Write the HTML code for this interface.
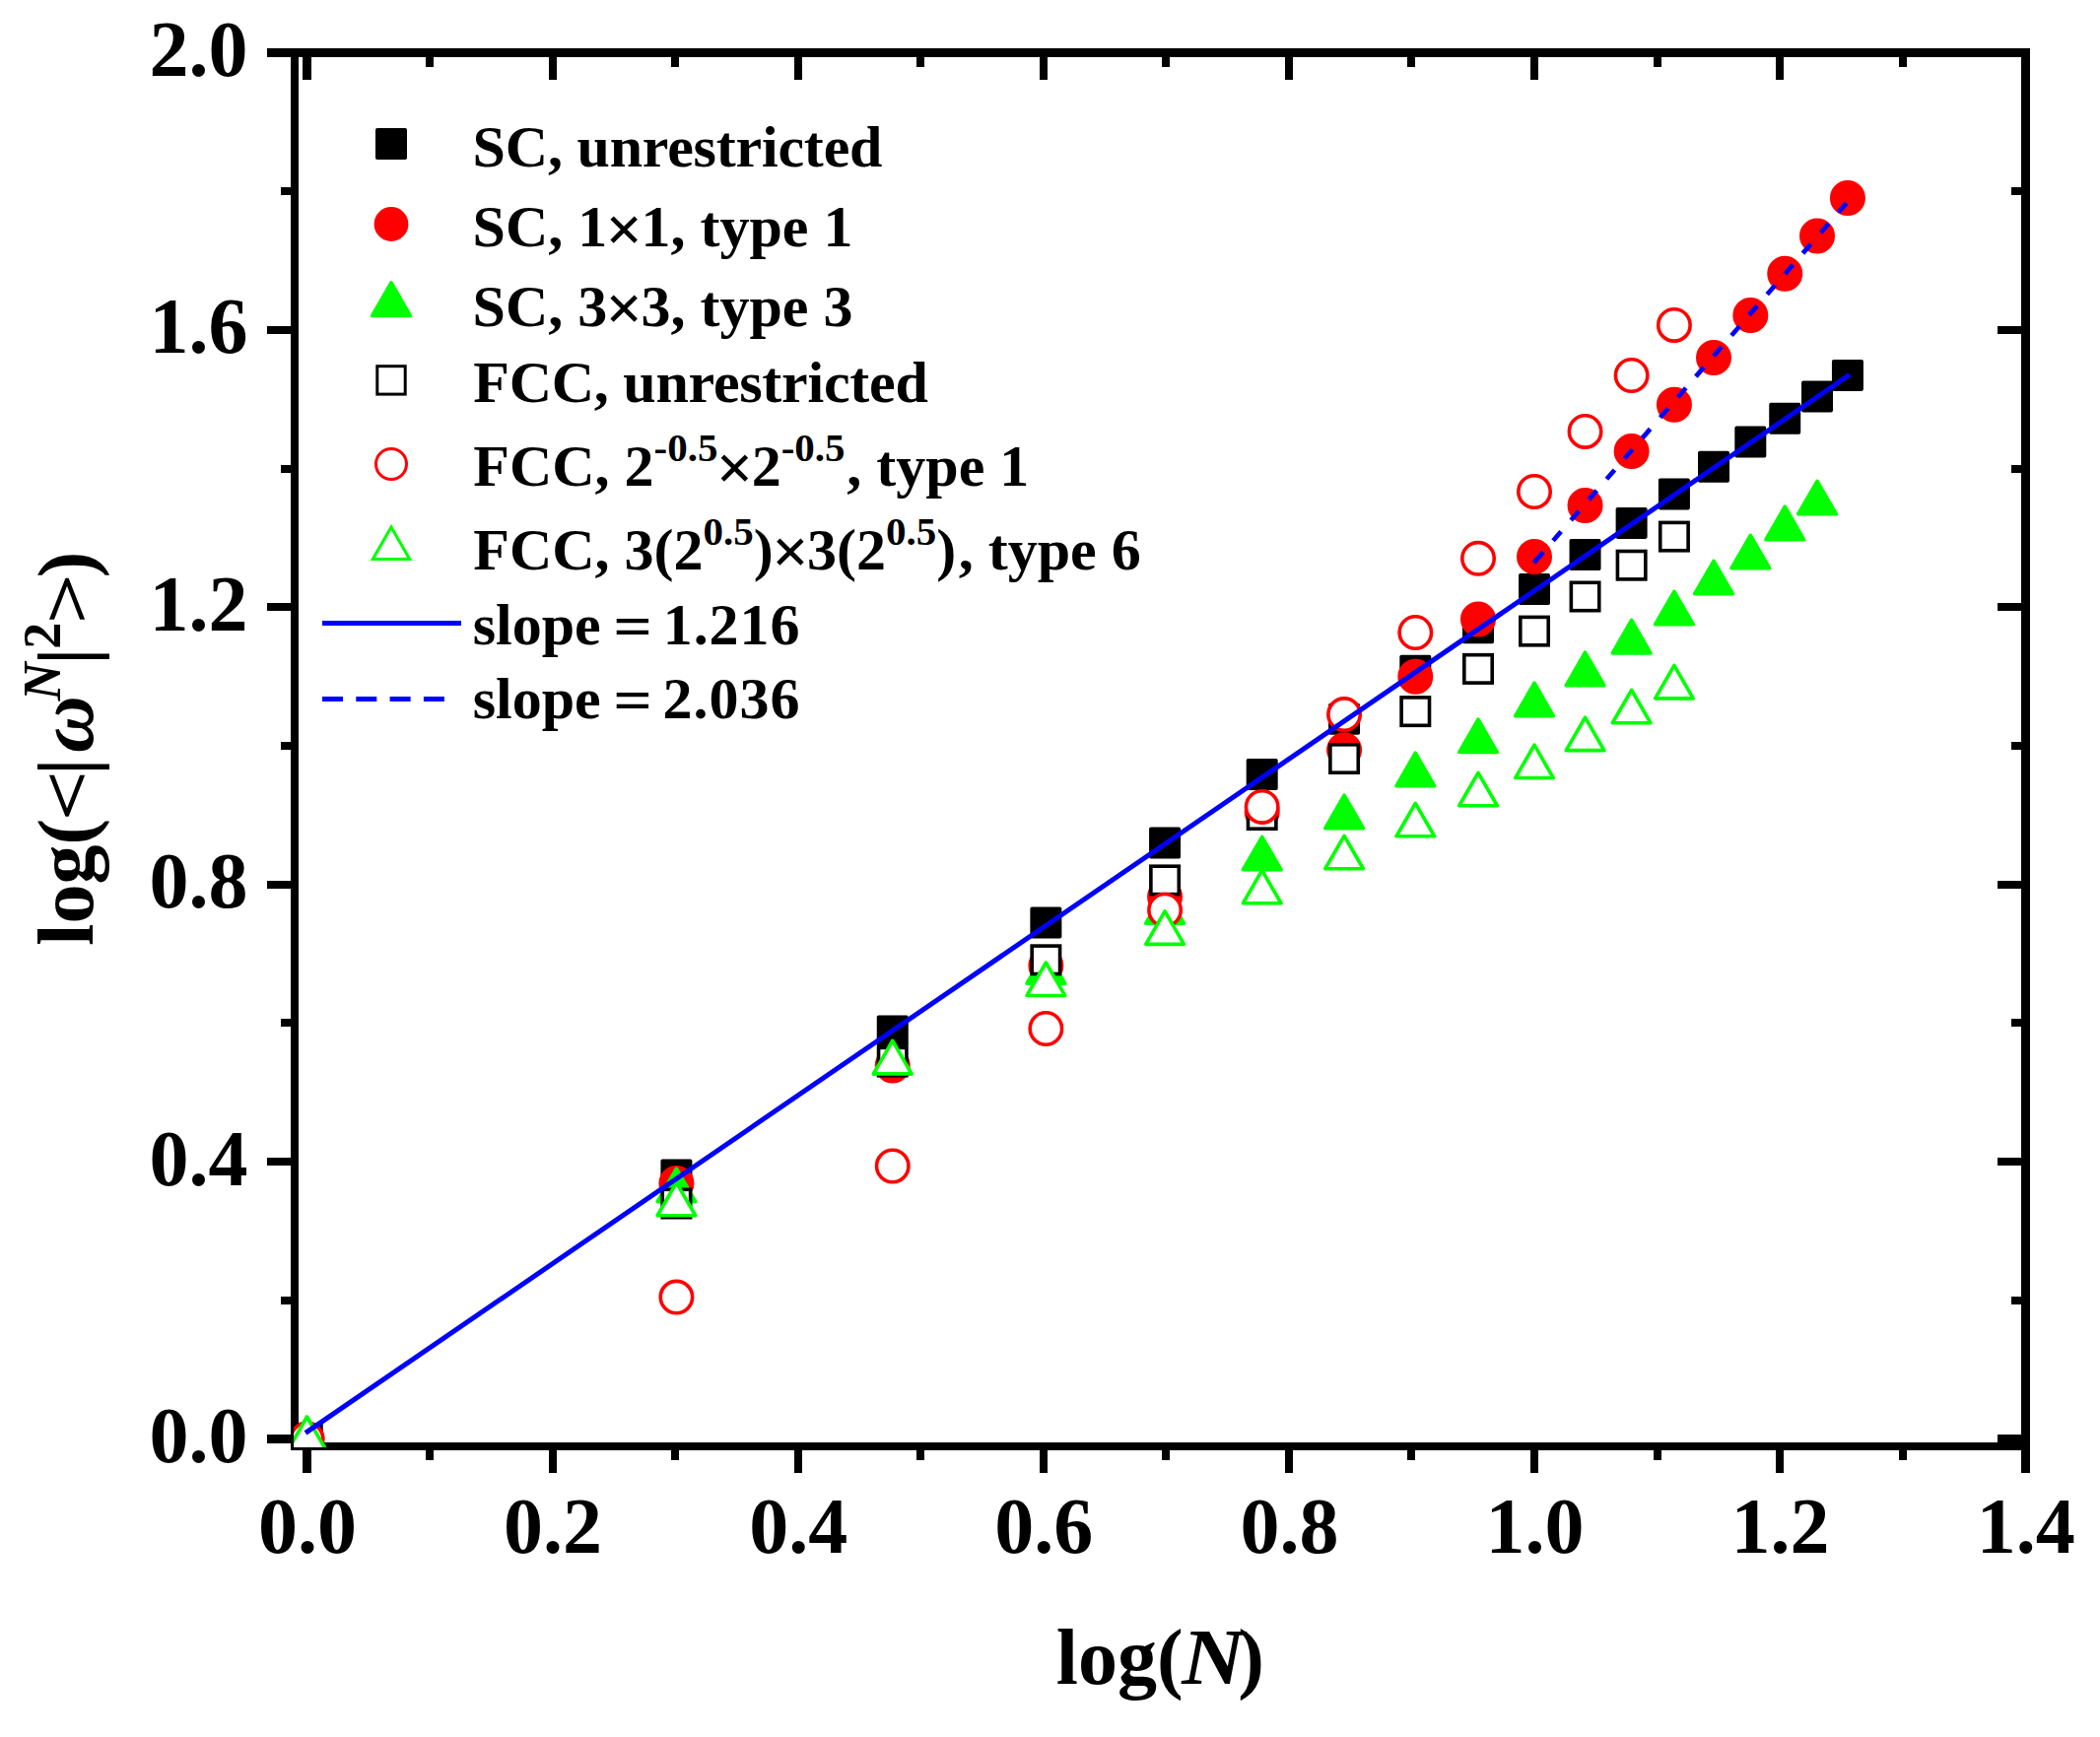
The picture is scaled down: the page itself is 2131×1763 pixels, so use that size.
<!DOCTYPE html>
<html lang="en"><head><meta charset="utf-8"><title>log(&lt;|&#969;N|2&gt;) versus log(N)</title>
<style>html,body{margin:0;padding:0;background:#fff}svg{display:block}text{font-family:"Liberation Serif","DejaVu Serif",serif;font-weight:bold;fill:#000}</style></head><body>
<svg width="2131" height="1763" viewBox="0 0 2131 1763">
<rect x="0" y="0" width="2131" height="1763" fill="#fff"/>
<g fill="#000" shape-rendering="crispEdges">
<rect x="295" y="49" width="8" height="1423"/>
<rect x="2051" y="49" width="9" height="1423"/>
<rect x="295" y="49" width="1765" height="9"/>
<rect x="295" y="1464" width="1765" height="8"/>
<rect x="307" y="1472" width="9" height="23"/>
<rect x="307" y="58" width="9" height="23"/>
<rect x="432" y="1472" width="8" height="10"/>
<rect x="432" y="58" width="8" height="10"/>
<rect x="557" y="1472" width="8" height="23"/>
<rect x="557" y="58" width="8" height="23"/>
<rect x="681" y="1472" width="8" height="10"/>
<rect x="681" y="58" width="8" height="10"/>
<rect x="806" y="1472" width="8" height="23"/>
<rect x="806" y="58" width="8" height="23"/>
<rect x="930" y="1472" width="8" height="10"/>
<rect x="930" y="58" width="8" height="10"/>
<rect x="1055" y="1472" width="8" height="23"/>
<rect x="1055" y="58" width="8" height="23"/>
<rect x="1179" y="1472" width="8" height="10"/>
<rect x="1179" y="58" width="8" height="10"/>
<rect x="1304" y="1472" width="8" height="23"/>
<rect x="1304" y="58" width="8" height="23"/>
<rect x="1428" y="1472" width="8" height="10"/>
<rect x="1428" y="58" width="8" height="10"/>
<rect x="1553" y="1472" width="8" height="23"/>
<rect x="1553" y="58" width="8" height="23"/>
<rect x="1678" y="1472" width="8" height="10"/>
<rect x="1678" y="58" width="8" height="10"/>
<rect x="1802" y="1472" width="8" height="23"/>
<rect x="1802" y="58" width="8" height="23"/>
<rect x="1927" y="1472" width="8" height="10"/>
<rect x="1927" y="58" width="8" height="10"/>
<rect x="2051" y="1472" width="9" height="23"/>
<rect x="2051" y="58" width="9" height="23"/>
<rect x="271" y="1456" width="24" height="9"/>
<rect x="2027" y="1456" width="24" height="9"/>
<rect x="285" y="1316" width="10" height="8"/>
<rect x="2041" y="1316" width="10" height="8"/>
<rect x="271" y="1175" width="24" height="8"/>
<rect x="2027" y="1175" width="24" height="8"/>
<rect x="285" y="1034" width="10" height="8"/>
<rect x="2041" y="1034" width="10" height="8"/>
<rect x="271" y="894" width="24" height="8"/>
<rect x="2027" y="894" width="24" height="8"/>
<rect x="285" y="753" width="10" height="8"/>
<rect x="2041" y="753" width="10" height="8"/>
<rect x="271" y="612" width="24" height="8"/>
<rect x="2027" y="612" width="24" height="8"/>
<rect x="285" y="472" width="10" height="8"/>
<rect x="2041" y="472" width="10" height="8"/>
<rect x="271" y="331" width="24" height="8"/>
<rect x="2027" y="331" width="24" height="8"/>
<rect x="285" y="190" width="10" height="8"/>
<rect x="2041" y="190" width="10" height="8"/>
<rect x="271" y="49" width="24" height="9"/>
<rect x="2027" y="49" width="24" height="9"/>
</g>
<g font-size="80px">
<text x="312" y="1576" text-anchor="middle">0.0</text>
<text x="561.1" y="1576" text-anchor="middle">0.2</text>
<text x="810.2" y="1576" text-anchor="middle">0.4</text>
<text x="1059.3" y="1576" text-anchor="middle">0.6</text>
<text x="1308.4" y="1576" text-anchor="middle">0.8</text>
<text x="1557.5" y="1576" text-anchor="middle">1.0</text>
<text x="1806.6" y="1576" text-anchor="middle">1.2</text>
<text x="2055.7" y="1576" text-anchor="middle">1.4</text>
<text x="251.4" y="1484" text-anchor="end">0.0</text>
<text x="251.4" y="1202.6" text-anchor="end">0.4</text>
<text x="251.4" y="921.2" text-anchor="end">0.8</text>
<text x="251.4" y="639.8" text-anchor="end">1.2</text>
<text x="251.4" y="358.4" text-anchor="end">1.6</text>
<text x="251.4" y="77" text-anchor="end">2.0</text>
</g>
<g font-size="80px"><text x="1071.8" y="1709">log(</text><text transform="translate(1199.2 1709) scale(1.1 1)" font-style="italic">N</text><text x="1256.2" y="1709">)</text></g>
<g transform="translate(93.6 958.2) rotate(-90)" font-size="80px">
<text x="-1.5" y="0">log(</text>
<text transform="translate(124.9 -1.5) scale(1.13 0.91)">&lt;</text>
<text x="171.2" y="0">|</text>
<text x="194.2" y="0" font-style="italic">&#969;</text>
<text x="247" y="-32.6" font-size="54px" font-style="italic">N</text>
<text x="283.3" y="0">|</text>
<text x="299.4" y="-32.6" font-size="54px">2</text>
<text transform="translate(324.9 -1.5) scale(1.13 0.91)">&gt;</text>
<text x="371.9" y="0">)</text>
</g>
<defs><clipPath id="pa"><rect x="298" y="53" width="1758" height="1416"/></clipPath></defs>
<g clip-path="url(#pa)" stroke-width="3.6" stroke-linejoin="round">
<g><rect x="297.3" y="1446.3" width="28.4" height="28.4" fill="#000" stroke="#000" stroke-linejoin="round"/><rect x="672.23" y="1178.3" width="28.4" height="28.4" fill="#000" stroke="#000" stroke-linejoin="round"/><rect x="891.55" y="1032.3" width="28.4" height="28.4" fill="#000" stroke="#000" stroke-linejoin="round"/><rect x="1047.17" y="922.3" width="28.4" height="28.4" fill="#000" stroke="#000" stroke-linejoin="round"/><rect x="1167.87" y="841.4" width="28.4" height="28.4" fill="#000" stroke="#000" stroke-linejoin="round"/><rect x="1266.49" y="771.8" width="28.4" height="28.4" fill="#000" stroke="#000" stroke-linejoin="round"/><rect x="1349.87" y="715.5" width="28.4" height="28.4" fill="#000" stroke="#000" stroke-linejoin="round"/><rect x="1422.1" y="666.5" width="28.4" height="28.4" fill="#000" stroke="#000" stroke-linejoin="round"/><rect x="1485.81" y="623" width="28.4" height="28.4" fill="#000" stroke="#000" stroke-linejoin="round"/><rect x="1542.8" y="583.9" width="28.4" height="28.4" fill="#000" stroke="#000" stroke-linejoin="round"/><rect x="1594.35" y="548.8" width="28.4" height="28.4" fill="#000" stroke="#000" stroke-linejoin="round"/><rect x="1641.42" y="516.7" width="28.4" height="28.4" fill="#000" stroke="#000" stroke-linejoin="round"/><rect x="1684.72" y="487.2" width="28.4" height="28.4" fill="#000" stroke="#000" stroke-linejoin="round"/><rect x="1724.8" y="459.6" width="28.4" height="28.4" fill="#000" stroke="#000" stroke-linejoin="round"/><rect x="1762.12" y="434.4" width="28.4" height="28.4" fill="#000" stroke="#000" stroke-linejoin="round"/><rect x="1797.03" y="410.5" width="28.4" height="28.4" fill="#000" stroke="#000" stroke-linejoin="round"/><rect x="1829.82" y="388.2" width="28.4" height="28.4" fill="#000" stroke="#000" stroke-linejoin="round"/><rect x="1860.74" y="366.7" width="28.4" height="28.4" fill="#000" stroke="#000" stroke-linejoin="round"/></g>
<g><circle cx="311.5" cy="1460.5" r="16.2" fill="#f00" stroke="#f00"/><circle cx="686.43" cy="1201" r="16.2" fill="#f00" stroke="#f00"/><circle cx="905.75" cy="1081.5" r="16.2" fill="#f00" stroke="#f00"/><circle cx="1061.37" cy="980" r="16.2" fill="#f00" stroke="#f00"/><circle cx="1182.07" cy="910" r="16.2" fill="#f00" stroke="#f00"/><circle cx="1280.69" cy="824" r="16.2" fill="#f00" stroke="#f00"/><circle cx="1364.07" cy="761.2" r="16.2" fill="#f00" stroke="#f00"/><circle cx="1436.3" cy="686.8" r="16.2" fill="#f00" stroke="#f00"/><circle cx="1500.01" cy="628.4" r="16.2" fill="#f00" stroke="#f00"/><circle cx="1557" cy="565" r="16.2" fill="#f00" stroke="#f00"/><circle cx="1608.55" cy="513.1" r="16.2" fill="#f00" stroke="#f00"/><circle cx="1655.62" cy="457.9" r="16.2" fill="#f00" stroke="#f00"/><circle cx="1698.92" cy="410.8" r="16.2" fill="#f00" stroke="#f00"/><circle cx="1739" cy="362.9" r="16.2" fill="#f00" stroke="#f00"/><circle cx="1776.32" cy="320" r="16.2" fill="#f00" stroke="#f00"/><circle cx="1811.23" cy="277.8" r="16.2" fill="#f00" stroke="#f00"/><circle cx="1844.02" cy="239.5" r="16.2" fill="#f00" stroke="#f00"/><circle cx="1874.94" cy="200.9" r="16.2" fill="#f00" stroke="#f00"/></g>
<g><polygon points="311.5,1438.21 330.8,1471.64 292.2,1471.64" fill="#0f0" stroke="#0f0"/><polygon points="686.43,1186.21 705.73,1219.64 667.13,1219.64" fill="#0f0" stroke="#0f0"/><polygon points="905.75,1056.71 925.05,1090.14 886.45,1090.14" fill="#0f0" stroke="#0f0"/><polygon points="1061.37,964.71 1080.67,998.14 1042.07,998.14" fill="#0f0" stroke="#0f0"/><polygon points="1182.07,903.71 1201.37,937.14 1162.77,937.14" fill="#0f0" stroke="#0f0"/><polygon points="1280.69,849.31 1299.99,882.74 1261.39,882.74" fill="#0f0" stroke="#0f0"/><polygon points="1364.07,807.21 1383.37,840.64 1344.77,840.64" fill="#0f0" stroke="#0f0"/><polygon points="1436.3,764.21 1455.6,797.64 1417,797.64" fill="#0f0" stroke="#0f0"/><polygon points="1500.01,730.11 1519.31,763.54 1480.71,763.54" fill="#0f0" stroke="#0f0"/><polygon points="1557,693.21 1576.3,726.64 1537.7,726.64" fill="#0f0" stroke="#0f0"/><polygon points="1608.55,662.21 1627.85,695.64 1589.25,695.64" fill="#0f0" stroke="#0f0"/><polygon points="1655.62,629.41 1674.92,662.84 1636.32,662.84" fill="#0f0" stroke="#0f0"/><polygon points="1698.92,600.31 1718.22,633.74 1679.62,633.74" fill="#0f0" stroke="#0f0"/><polygon points="1739,569.31 1758.3,602.74 1719.7,602.74" fill="#0f0" stroke="#0f0"/><polygon points="1776.32,543.31 1795.62,576.74 1757.02,576.74" fill="#0f0" stroke="#0f0"/><polygon points="1811.23,514.21 1830.53,547.64 1791.93,547.64" fill="#0f0" stroke="#0f0"/><polygon points="1844.02,488.31 1863.32,521.74 1824.72,521.74" fill="#0f0" stroke="#0f0"/></g>
<g><rect x="297.3" y="1446.3" width="28.4" height="28.4" fill="#fff" stroke="#000" stroke-linejoin="miter"/><rect x="672.23" y="1207.3" width="28.4" height="28.4" fill="#fff" stroke="#000" stroke-linejoin="miter"/><rect x="891.55" y="1063.4" width="28.4" height="28.4" fill="#fff" stroke="#000" stroke-linejoin="miter"/><rect x="1047.17" y="960.1" width="28.4" height="28.4" fill="#fff" stroke="#000" stroke-linejoin="miter"/><rect x="1167.87" y="879.2" width="28.4" height="28.4" fill="#fff" stroke="#000" stroke-linejoin="miter"/><rect x="1266.49" y="812.8" width="28.4" height="28.4" fill="#fff" stroke="#000" stroke-linejoin="miter"/><rect x="1349.87" y="755.8" width="28.4" height="28.4" fill="#fff" stroke="#000" stroke-linejoin="miter"/><rect x="1422.1" y="707.9" width="28.4" height="28.4" fill="#fff" stroke="#000" stroke-linejoin="miter"/><rect x="1485.81" y="664.7" width="28.4" height="28.4" fill="#fff" stroke="#000" stroke-linejoin="miter"/><rect x="1542.8" y="626.4" width="28.4" height="28.4" fill="#fff" stroke="#000" stroke-linejoin="miter"/><rect x="1594.35" y="591.3" width="28.4" height="28.4" fill="#fff" stroke="#000" stroke-linejoin="miter"/><rect x="1641.42" y="559.5" width="28.4" height="28.4" fill="#fff" stroke="#000" stroke-linejoin="miter"/><rect x="1684.72" y="530.4" width="28.4" height="28.4" fill="#fff" stroke="#000" stroke-linejoin="miter"/></g>
<g><circle cx="311.5" cy="1460.5" r="16.2" fill="#fff" stroke="#f00"/><circle cx="686.43" cy="1316.6" r="16.2" fill="#fff" stroke="#f00"/><circle cx="905.75" cy="1183.5" r="16.2" fill="#fff" stroke="#f00"/><circle cx="1061.37" cy="1044" r="16.2" fill="#fff" stroke="#f00"/><circle cx="1182.07" cy="923.7" r="16.2" fill="#fff" stroke="#f00"/><circle cx="1280.69" cy="818.9" r="16.2" fill="#fff" stroke="#f00"/><circle cx="1364.07" cy="725.1" r="16.2" fill="#fff" stroke="#f00"/><circle cx="1436.3" cy="642" r="16.2" fill="#fff" stroke="#f00"/><circle cx="1500.01" cy="566.8" r="16.2" fill="#fff" stroke="#f00"/><circle cx="1557" cy="499" r="16.2" fill="#fff" stroke="#f00"/><circle cx="1608.55" cy="437.9" r="16.2" fill="#fff" stroke="#f00"/><circle cx="1655.62" cy="381" r="16.2" fill="#fff" stroke="#f00"/><circle cx="1698.92" cy="329.9" r="16.2" fill="#fff" stroke="#f00"/></g>
<g><polygon points="311.5,1438.21 330.8,1471.64 292.2,1471.64" fill="#fff" stroke="#0f0"/><polygon points="686.43,1200.31 705.73,1233.74 667.13,1233.74" fill="#fff" stroke="#0f0"/><polygon points="905.75,1056.41 925.05,1089.84 886.45,1089.84" fill="#fff" stroke="#0f0"/><polygon points="1061.37,977.01 1080.67,1010.44 1042.07,1010.44" fill="#fff" stroke="#0f0"/><polygon points="1182.07,924.91 1201.37,958.34 1162.77,958.34" fill="#fff" stroke="#0f0"/><polygon points="1280.69,883.31 1299.99,916.74 1261.39,916.74" fill="#fff" stroke="#0f0"/><polygon points="1364.07,848.31 1383.37,881.74 1344.77,881.74" fill="#fff" stroke="#0f0"/><polygon points="1436.3,815.31 1455.6,848.74 1417,848.74" fill="#fff" stroke="#0f0"/><polygon points="1500.01,784.31 1519.31,817.74 1480.71,817.74" fill="#fff" stroke="#0f0"/><polygon points="1557,756.11 1576.3,789.54 1537.7,789.54" fill="#fff" stroke="#0f0"/><polygon points="1608.55,728.21 1627.85,761.64 1589.25,761.64" fill="#fff" stroke="#0f0"/><polygon points="1655.62,700.31 1674.92,733.74 1636.32,733.74" fill="#fff" stroke="#0f0"/><polygon points="1698.92,675.41 1718.22,708.84 1679.62,708.84" fill="#fff" stroke="#0f0"/></g>
</g>
<g stroke="#00f" stroke-width="5" fill="none" clip-path="url(#pa)">
<line x1="310" y1="1454.4" x2="1877" y2="380.3" stroke-width="5"/>
<line x1="1556.6" y1="571.2" x2="1558.04" y2="569.54"/>
<line x1="1557.94" y1="569.65" x2="1874.4" y2="205.38" stroke-dasharray="12.3 15.3" stroke-width="4.7"/>
</g>
<g stroke-width="3.6" stroke-linejoin="round">
<rect x="382.8" y="131.8" width="28.4" height="28.4" fill="#000" stroke="#000" stroke-linejoin="round"/>
<circle cx="397" cy="227.5" r="15.6" fill="#f00" stroke="#f00"/>
<polygon points="397,287.01 416.3,320.44 377.7,320.44" fill="#0f0" stroke="#0f0"/>
</g>
<g stroke-width="3" stroke-linejoin="miter">
<rect x="382.8" y="371.7" width="28.4" height="28.4" fill="#fff" stroke="#000" stroke-linejoin="miter"/>
<circle cx="397" cy="471" r="15.5" fill="#fff" stroke="#f00"/>
<polygon points="397,535.01 415.7,567.4 378.3,567.4" fill="#fff" stroke="#0f0"/>
</g>
<g stroke="#00f" stroke-width="5" fill="none">
<line x1="327" y1="632.5" x2="468" y2="632.5"/>
<line x1="327" y1="709.5" x2="452" y2="709.5" stroke-dasharray="21 13.3"/>
</g>
<g font-size="60px">
<text x="479.6" y="168.5" letter-spacing="-0.2">SC, unrestricted</text>
<text x="479.6" y="250">SC, 1<tspan font-size="66px" dx="-1.7" dy="4.7">&#215;</tspan><tspan dx="-1.7" dy="-4.7">1, type 1</tspan></text>
<text x="479.6" y="330.5">SC, 3<tspan font-size="66px" dx="-1.7" dy="4.7">&#215;</tspan><tspan dx="-1.7" dy="-4.7">3, type 3</tspan></text>
<text x="480.3" y="408" letter-spacing="-0.25">FCC, unrestricted</text>
<text x="480.3" y="492.5">FCC, 2<tspan font-size="41px" dy="-25">-0.5</tspan><tspan font-size="66px" dx="-1.7" dy="29.7">&#215;</tspan><tspan dx="-1.7" dy="-4.7">2</tspan><tspan font-size="41px" dy="-25">-0.5</tspan><tspan dy="25" dx="1.7">, type 1</tspan></text>
<text x="480.3" y="577.5">FCC, 3(2<tspan font-size="41px" dy="-25">0.5</tspan><tspan dy="25">)</tspan><tspan font-size="66px" dx="-1.7" dy="4.7">&#215;</tspan><tspan dx="-1.7" dy="-4.7">3(2</tspan><tspan font-size="41px" dy="-25">0.5</tspan><tspan dy="25">)</tspan><tspan dx="2.5">, type 6</tspan></text>
<text x="479.7" y="653.5">slope</text><text transform="translate(622.2 654.5) scale(1.16 1)">=</text><text x="672.8" y="653.5" letter-spacing="0.9">1.216</text>
<text x="479.7" y="729">slope</text><text transform="translate(622.2 730) scale(1.16 1)">=</text><text x="672.4" y="729" letter-spacing="1">2.036</text>
</g>
</svg></body></html>
